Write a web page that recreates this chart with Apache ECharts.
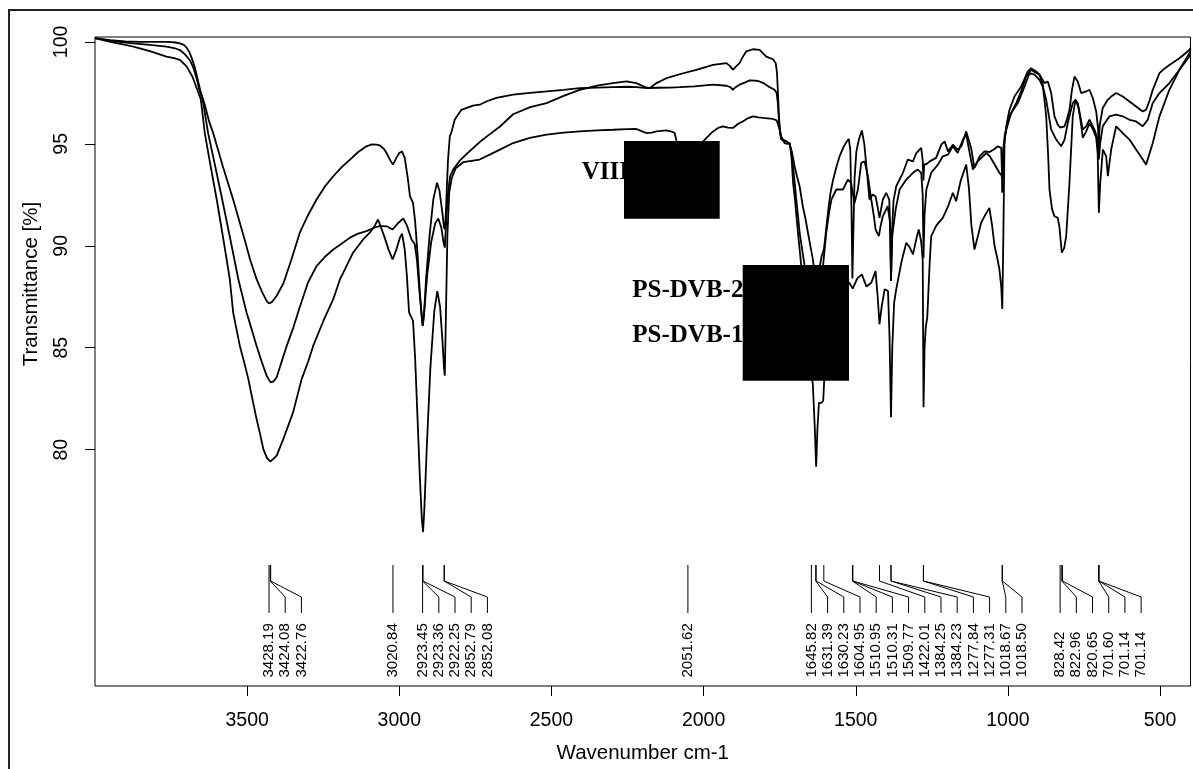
<!DOCTYPE html>
<html><head><meta charset="utf-8">
<script src="https://cdn.jsdelivr.net/npm/echarts@6/dist/echarts.min.js"></script>
<style>html,body{margin:0;padding:0;background:#fff;}#c{width:1193px;height:769px;}</style>
</head><body><div id="c"></div>
<script>
// ---- data ----
const xTicks = [3500, 3000, 2500, 2000, 1500, 1000, 500];
const yTicks = [80, 85, 90, 95, 100];
const peaks = [3428.19, 3424.08, 3422.76, 3020.84, 2923.45, 2923.36, 2922.25, 2852.79, 2852.08, 2051.62,
  1645.82, 1631.39, 1630.23, 1604.95, 1510.95, 1510.31, 1509.77, 1422.01, 1384.25, 1384.23, 1277.84, 1277.31,
  1018.67, 1018.50, 828.42, 822.96, 820.65, 701.60, 701.14, 701.14];
const sampleLabels = ['VIII', 'PS-DVB-2', 'PS-DVB-1'];

const curveA = [[4000,100.18],[3950,100.08],[3900,100.03],[3850,100.0],[3800,100.0],[3760,100.0],[3735,99.97],[3721,99.93],[3708,99.85],[3699,99.72],[3690,99.5],[3682,99.2],[3672,98.75],[3665,98.3],[3652,97.5],[3639,96.9],[3625,96.1],[3611,95.5],[3580,93.9],[3546,92.27],[3510,90.4],[3490,89.3],[3469,88.36],[3450,87.7],[3436,87.3],[3428,87.17],[3418,87.25],[3403,87.55],[3381,88.15],[3355,89.3],[3327,90.64],[3300,91.5],[3272,92.27],[3245,92.9],[3217,93.41],[3190,93.85],[3162,94.23],[3135,94.6],[3108,94.88],[3090,94.97],[3075,94.96],[3064,94.92],[3050,94.75],[3042,94.55],[3030,94.2],[3021,93.98],[3010,94.3],[3000,94.55],[2991,94.63],[2982,94.3],[2972,93.3],[2965,92.43],[2955,92.11],[2948,91.2],[2940,89.6],[2932,87.6],[2926,86.5],[2923,86.07],[2919,86.6],[2912,88.4],[2900,90.6],[2888,92.3],[2876,93.09],[2868,92.7],[2860,91.8],[2853,90.9],[2850,90.8],[2846,92.0],[2840,94.2],[2834,95.37],[2828,95.6],[2818,96.18],[2796,96.67],[2758,96.87],[2736,96.92],[2710,97.1],[2681,97.25],[2626,97.41],[2570,97.5],[2516,97.57],[2460,97.65],[2407,97.73],[2350,97.76],[2298,97.78],[2250,97.8],[2220,97.78],[2188,97.73],[2150,97.75],[2110,97.76],[2079,97.78],[2030,97.82],[1969,97.9],[1925,97.85],[1912,97.78],[1904,97.65],[1895,97.78],[1882,97.9],[1865,98.0],[1849,98.11],[1830,98.1],[1816,98.06],[1800,97.95],[1783,97.78],[1767,97.65],[1760,97.5],[1756,97.0],[1753,96.3],[1749,95.5],[1744,95.2],[1736,95.15],[1728,95.12],[1722,95.05],[1717,94.96],[1710,94.6],[1701,93.9],[1693,93.4],[1684.5,92.92],[1674,91.94],[1665,91.3],[1657,90.64],[1648,89.9],[1641,89.33],[1635,88.6],[1631,88.1],[1625,88.6],[1618,89.0],[1612,89.5],[1605,89.8],[1601,90.3],[1596,91.0],[1590,91.8],[1583,92.6],[1575,93.2],[1563,93.9],[1553,94.4],[1540,94.85],[1530,95.1],[1523,95.24],[1518,94.7],[1514,91.8],[1511,88.4],[1508,90.6],[1504,93.3],[1498,94.63],[1490,95.2],[1480,95.66],[1472,95.0],[1464,93.74],[1455,92.27],[1444,92.51],[1435,92.43],[1428,91.9],[1422,91.37],[1411,92.27],[1400,92.6],[1390,92.27],[1386,90.5],[1384.2,88.3],[1381,90.6],[1376,92.2],[1367,92.92],[1345,93.58],[1329,94.23],[1312,94.14],[1301,94.55],[1285,94.8],[1280,94.2],[1277.8,93.2],[1275,94.0],[1268,94.0],[1257,94.14],[1236,94.31],[1219,94.96],[1208,95.12],[1197,94.63],[1181,94.96],[1165,94.72],[1153,94.88],[1137,95.61],[1121,94.8],[1110,93.82],[1093,94.39],[1077,94.63],[1060,94.6],[1044,94.75],[1033,94.88],[1022,94.8],[1020,93.8],[1018.67,92.6],[1016.5,93.9],[1014.5,94.72],[1005.6,95.86],[994.8,96.67],[978.4,97.32],[956.4,97.81],[934.6,98.55],[923.6,98.71],[907.1,98.55],[896.2,98.39],[879.8,97.98],[868.9,98.06],[857.8,97.49],[846.9,96.35],[836.1,95.94],[828.4,95.8],[822,95.84],[814.1,95.86],[806,96.2],[797.7,96.67],[790,97.6],[781.3,98.3],[770.5,98.06],[759.4,97.49],[743,97.57],[732,97.65],[721.1,97.25],[710,96.59],[704,95.8],[701.6,94.88],[698.5,95.9],[688.4,96.76],[672,97.16],[658,97.35],[644.4,97.49],[622.6,97.32],[600.6,97.08],[578.7,96.83],[556.9,96.59],[545.8,96.67],[535,97.1],[524,97.65],[502,98.47],[485,98.7],[469.2,98.87],[436.4,99.2],[403.6,99.6],[400,99.7]];

const curveB = [[4000,100.18],[3950,100.05],[3874,99.93],[3820,99.85],[3765,99.77],[3740,99.7],[3721,99.6],[3705,99.4],[3688,99.1],[3676,98.7],[3666,98.2],[3656,97.6],[3646,97.16],[3628,95.5],[3605,93.9],[3582,92.27],[3555,90.3],[3529,88.36],[3502,86.73],[3485,85.9],[3469,85.09],[3452,84.3],[3436,83.63],[3423,83.3],[3413,83.35],[3403,83.55],[3387,84.3],[3370,85.09],[3348,86.0],[3327,87.0],[3300,88.2],[3272,89.0],[3245,89.45],[3217,89.82],[3190,90.1],[3162,90.4],[3135,90.6],[3108,90.72],[3080,90.9],[3064,90.96],[3053,90.96],[3040,90.95],[3022,90.8],[3005,91.1],[2987,91.34],[2975,91.0],[2960,90.31],[2949,90.07],[2942,89.3],[2935,88.0],[2928,86.8],[2923,86.07],[2918,86.8],[2908,88.6],[2895,90.2],[2882,91.1],[2872,91.34],[2862,90.9],[2855,90.2],[2850.5,89.91],[2846,91.2],[2840,92.6],[2833,93.4],[2823,93.74],[2800,94.2],[2779,94.5],[2735,95.1],[2700,95.5],[2669,95.85],[2626,96.45],[2570,96.8],[2516,97.0],[2460,97.35],[2407,97.65],[2350,97.85],[2298,97.98],[2254,98.06],[2221,97.98],[2195,97.8],[2177,97.73],[2155,97.98],[2122,98.22],[2070,98.45],[2024,98.63],[1969,98.87],[1925,98.96],[1912,98.8],[1904,98.63],[1893,98.8],[1882,98.96],[1870,99.3],[1860,99.53],[1838,99.64],[1816,99.61],[1794,99.28],[1772,99.15],[1763,98.95],[1759,98.5],[1756,97.6],[1753,96.5],[1749,95.6],[1744,95.25],[1736,95.18],[1728,95.12],[1722,95.08],[1717,95.0],[1711,94.6],[1706,93.9],[1700,93.0],[1695.5,92.27],[1690,91.5],[1684.5,90.64],[1676,89.8],[1668,89.0],[1660,88.0],[1652,87.0],[1646,86.4],[1640,86.6],[1635,86.2],[1631,85.5],[1626,85.9],[1622,86.3],[1614,87.6],[1607,89.1],[1597,90.64],[1588,91.6],[1580,92.27],[1564,92.76],[1542,92.76],[1526,93.25],[1520,93.2],[1515,93.09],[1509,92.5],[1504,92.1],[1493,92.76],[1482,94.07],[1471,94.14],[1460,93.41],[1449,92.27],[1440,91.4],[1435,90.8],[1424,90.47],[1418,91.0],[1411,91.45],[1395,91.94],[1388,91.2],[1384.2,88.27],[1380,90.5],[1369,91.78],[1356,92.76],[1334,93.25],[1312,93.58],[1296,93.74],[1285,93.58],[1280,92.5],[1277.3,89.42],[1274,91.5],[1268,92.76],[1252,93.58],[1230,93.98],[1214,94.39],[1197,94.47],[1181,94.88],[1165,94.55],[1148,95.21],[1137,95.45],[1125,94.5],[1115,93.74],[1099,94.14],[1071,94.55],[1060,94.4],[1044,94.0],[1028,93.58],[1021,93.45],[1018.5,93.3],[1016,94.2],[1014.5,94.88],[1005.6,95.7],[989,96.51],[967.5,97.0],[945.5,97.81],[929,98.47],[912.7,98.39],[896.2,98.14],[885.4,97.81],[874.3,97.16],[857.8,95.7],[841.4,95.21],[825,94.88],[820.65,94.8],[814,95.2],[803.3,96.02],[786.9,97.0],[778,97.16],[767.2,96.76],[754,95.7],[743,95.86],[732,96.18],[715.6,95.7],[704.7,95.21],[701.14,94.23],[697,95.0],[688.4,95.86],[666.4,96.35],[644.4,96.43],[622.6,96.35],[600.6,96.18],[578.7,96.1],[556.9,95.86],[540.5,96.18],[524,97.0],[502,97.49],[469.2,97.98],[436.4,98.63],[403.6,99.28],[400,99.4]];

const curveC = [[4000,100.18],[3950,100.0],[3900,99.85],[3874,99.77],[3820,99.55],[3765,99.28],[3740,99.2],[3721,99.12],[3699,98.8],[3680,98.3],[3665,97.7],[3652,97.16],[3639,95.5],[3620,93.9],[3600,92.27],[3578,90.3],[3557,88.36],[3546,86.73],[3535,85.9],[3524,85.09],[3510,84.3],[3496,83.46],[3483,82.5],[3469,81.5],[3458,80.8],[3447,80.04],[3435,79.6],[3424,79.42],[3414,79.55],[3403,79.71],[3381,80.53],[3349,81.83],[3321,83.46],[3300,84.3],[3283,85.09],[3250,86.3],[3217,87.38],[3195,88.36],[3184,88.68],[3152,89.66],[3119,90.31],[3097,90.64],[3080,91.0],[3070,91.29],[3060,90.9],[3048,90.4],[3035,89.8],[3022,89.33],[3010,89.8],[2998,90.4],[2991,90.6],[2982,89.8],[2975,88.5],[2968,86.73],[2955,86.32],[2948,84.5],[2940,81.5],[2932,78.5],[2926,76.6],[2922,75.96],[2918,77.0],[2910,80.0],[2898,84.0],[2885,86.8],[2875,87.78],[2866,87.0],[2858,85.3],[2853,84.0],[2850.5,83.63],[2847,86.5],[2842,90.5],[2836,92.6],[2828,93.3],[2815,93.8],[2790,94.1],[2736,94.23],[2681,94.63],[2626,95.04],[2571,95.29],[2516,95.45],[2460,95.55],[2407,95.61],[2350,95.66],[2298,95.69],[2250,95.72],[2221,95.73],[2200,95.6],[2188,95.53],[2170,95.55],[2155,95.61],[2122,95.66],[2105,95.6],[2095,95.53],[2087,95.0],[2075,94.4],[2060,93.3],[2051.62,92.5],[2043,93.3],[2030,94.4],[2015,94.9],[1996,95.21],[1980,95.45],[1969,95.61],[1950,95.8],[1936,95.86],[1920,95.8],[1904,95.78],[1885,96.0],[1871,96.1],[1855,96.25],[1838,96.35],[1820,96.3],[1805,96.27],[1790,96.25],[1772,96.22],[1760,96.15],[1756,96.1],[1750,95.7],[1745,95.37],[1734,95.04],[1725,95.0],[1717,95.05],[1711,94.3],[1706,93.09],[1700,92.3],[1695,91.45],[1687,90.2],[1679,89.0],[1672,87.8],[1665,86.5],[1655,84.8],[1646,83.8],[1641,83.2],[1635,81.2],[1630.23,79.16],[1626,81.0],[1621,82.3],[1613,82.3],[1607,82.4],[1603,83.6],[1598,85.5],[1590,87.0],[1575,87.8],[1560,88.0],[1540,88.0],[1522,88.2],[1510,87.9],[1495,88.4],[1480,88.6],[1465,88.0],[1449,88.19],[1435,88.76],[1428,87.5],[1422,86.15],[1415,87.0],[1405,87.87],[1394,87.78],[1389,85.5],[1384.25,81.59],[1380,85.0],[1374,87.2],[1367,87.87],[1350,89.2],[1334,90.15],[1322,89.9],[1312,89.58],[1300,90.4],[1293,90.8],[1285,90.2],[1280,89.33],[1277.3,82.08],[1274,85.0],[1270,86.0],[1265,86.5],[1262,87.5],[1257,89.2],[1252,90.47],[1235,91.0],[1214,91.37],[1195,92.0],[1181,92.6],[1170,92.19],[1155,93.2],[1137,93.98],[1128,92.8],[1120,91.0],[1110,89.82],[1100,90.4],[1088,91.13],[1075,91.5],[1061,91.86],[1052,91.0],[1044,90.0],[1035,89.4],[1028,88.85],[1022,88.0],[1018.5,86.9],[1015,90.5],[1011,95.37],[994.8,96.35],[972.8,97.0],[956,97.6],[940,98.3],[923.6,98.63],[910,98.5],[896.2,98.39],[885.4,97.9],[874.2,96.35],[868,94.5],[863.4,92.76],[855,91.8],[847,91.45],[836.1,91.37],[830.6,90.9],[822.96,89.66],[815,89.9],[808.5,90.47],[797.7,93.09],[786.9,96.35],[778,97.16],[770.5,97.0],[760,96.0],[754,95.3],[743,95.6],[732,96.0],[720,95.7],[710,95.3],[705,94.5],[701.14,91.62],[697,93.0],[688,94.72],[677,94.39],[671.6,93.41],[660.7,94.72],[644.3,95.86],[622.5,95.53],[600.6,95.21],[578.7,94.72],[556.8,94.23],[545.9,93.98],[524,95.04],[502,96.35],[469.4,97.65],[436.4,98.63],[403.6,99.45],[400,99.6]];

// ---- chart ----
const FONT = '"Liberation Sans", Arial, Helvetica, sans-serif';
const chart = echarts.init(document.getElementById('c'), null, {renderer: 'canvas'});

const LABEL_GAP = 16.2;
function peakLayout(api) {
  const out = [];
  let prev = -Infinity;
  for (let i = 0; i < peaks.length; i++) {
    const px = api.coord([peaks[i], 90])[0];
    const lx = Math.max(px, prev + LABEL_GAP);
    out.push([px, lx]);
    prev = lx;
  }
  return out;
}

function lineSeries(data) {
  return {type: 'line', data: data, showSymbol: false, symbol: 'none', silent: true,
    lineStyle: {color: '#000', width: 1.8}, z: 2};
}

const option = {
  animation: false,
  backgroundColor: '#fff',
  grid: {left: 95, top: 37, width: 1095.5, height: 651, show: true, borderColor: '#000', borderWidth: 1, backgroundColor: 'transparent'},
  xAxis: {
    type: 'value', min: 400, max: 4000, inverse: true,
    axisLine: {show: false},
    axisTick: {show: true, inside: false, length: 10, customValues: xTicks, lineStyle: {color: '#000', width: 1}},
    axisLabel: {customValues: xTicks, formatter: v => String(v), fontSize: 19.5, fontFamily: FONT, color: '#000', margin: 25},
    splitLine: {show: false},
    name: 'Wavenumber cm-1', nameLocation: 'middle', nameGap: 57,
    nameTextStyle: {fontSize: 20.5, fontFamily: FONT, color: '#000'}
  },
  yAxis: {
    type: 'value', min: 68.41, max: 100.24,
    axisLine: {show: false},
    axisTick: {show: true, inside: false, length: 10, customValues: yTicks, lineStyle: {color: '#000', width: 1}},
    axisLabel: {customValues: yTicks, formatter: v => String(v), rotate: 90, fontSize: 19.5, fontFamily: FONT, color: '#000', margin: 23.5},
    splitLine: {show: false}
  },
  series: [
    lineSeries(curveA),
    lineSeries(curveB),
    lineSeries(curveC),
    {
      type: 'custom', coordinateSystem: 'cartesian2d', silent: true, clip: false,
      data: peaks.map(p => [p, 75]),
      encode: {x: 0, y: 1},
      renderItem: function (params, api) {
        const cs = params.coordSys;
        const bottom = cs.y + cs.height;
        const lay = peakLayout(api)[params.dataIndex];
        const px = lay[0], lx = lay[1];
        return {
          type: 'group',
          children: [
            {type: 'polyline', shape: {points: [[px, bottom - 121], [px, bottom - 105], [lx, bottom - 89], [lx, bottom - 73]]},
              style: {stroke: '#000', lineWidth: 1, fill: null}},
            {type: 'text', x: lx, y: bottom - 8.5, rotation: Math.PI / 2,
              style: {text: peaks[params.dataIndex].toFixed(2), font: '15px ' + FONT, fill: '#000', align: 'left', verticalAlign: 'middle'}}
          ]
        };
      }
    }
  ],
  graphic: [
    {type: 'rect', z: 100, silent: true, shape: {x: 9, y: 10, width: 1300, height: 800}, style: {fill: 'none', stroke: '#222', lineWidth: 2}},
    {type: 'text', z: 100, silent: true, x: 31, y: 284, rotation: Math.PI / 2,
      style: {text: 'Transmittance [%]', font: '20.5px ' + FONT, fill: '#000', align: 'center', verticalAlign: 'middle'}},
    {type: 'text', z: 100, silent: true, x: 581.7, y: 172.5,
      style: {text: sampleLabels[0], font: 'bold 25px "Liberation Serif", "Times New Roman", serif', fill: '#000', align: 'left', verticalAlign: 'middle'}},
    {type: 'text', z: 100, silent: true, x: 632.3, y: 290.3,
      style: {text: sampleLabels[1], font: 'bold 25px "Liberation Serif", "Times New Roman", serif', fill: '#000', align: 'left', verticalAlign: 'middle'}},
    {type: 'text', z: 100, silent: true, x: 632.3, y: 335.3,
      style: {text: sampleLabels[2], font: 'bold 25px "Liberation Serif", "Times New Roman", serif', fill: '#000', align: 'left', verticalAlign: 'middle'}},
    {type: 'rect', z: 101, silent: true, shape: {x: 624, y: 141, width: 95.7, height: 77.7}, style: {fill: '#000'}},
    {type: 'rect', z: 101, silent: true, shape: {x: 742.7, y: 265, width: 106.3, height: 115.7}, style: {fill: '#000'}}
  ]
};
chart.setOption(option);
</script>
</body></html>
